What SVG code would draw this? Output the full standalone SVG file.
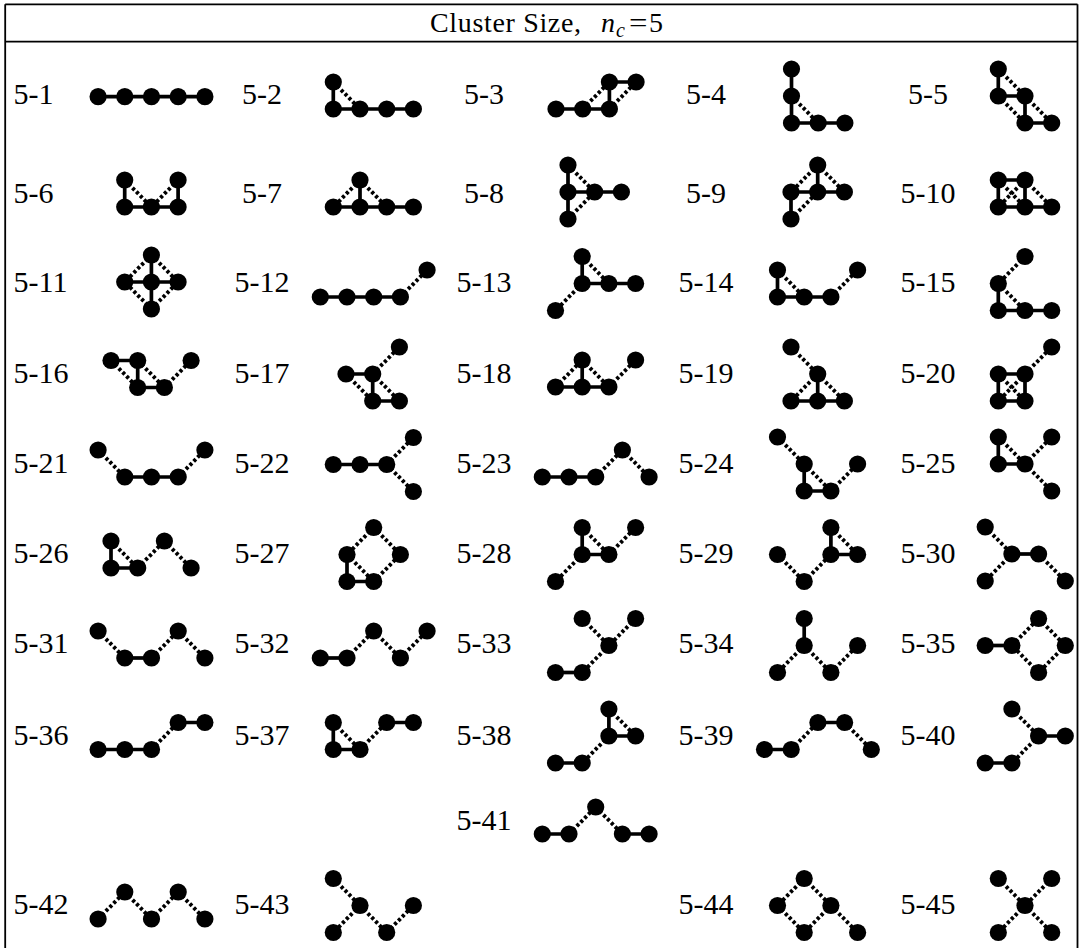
<svg xmlns="http://www.w3.org/2000/svg" width="1079" height="948" viewBox="0 0 1079 948">
<style>
text{font-family:"Liberation Serif","Times New Roman",serif;font-size:30px;fill:#000}
.lb1{text-anchor:start}
.lb{text-anchor:middle}
.hd{font-size:28px}
.s{stroke:#000;stroke-width:3.7;fill:none}
.d{stroke:#000;stroke-width:3.9;fill:none;stroke-dasharray:3.1 2.4}
.frame{stroke:#000;stroke-width:1.8;fill:none}
circle{fill:#000}
</style>
<rect width="1079" height="948" fill="#fff"/>
<g id="table">
<path class="frame" d="M5.2 4.3H1077.5M5.2 41.7H1077.5M5.2 4.3V948M1077.5 4.3V948"/>
<text class="hd" x="430" y="32.3" textLength="151" lengthAdjust="spacing">Cluster Size,</text>
<text class="hd" x="601" y="32.3" font-style="italic">n</text>
<text x="616" y="36.5" font-style="italic" style="font-size:20px">c</text>
<text class="hd" x="629" y="32.3" textLength="18.5" lengthAdjust="spacingAndGlyphs">=</text>
<text class="hd" x="649" y="32.3">5</text>
</g>
<g id="connectors">
<path class="s" transform="translate(98.1,96.7)" d="M0 0H106.8"/>
<path class="s" transform="translate(333.3,82)" d="M0 0V27H80.1"/>
<path class="d" transform="translate(333.3,82)" d="M0 0L26.7 27"/>
<path class="s" transform="translate(556,82)" d="M0 27H53.4V0H80.1"/>
<path class="d" transform="translate(556,82)" d="M26.7 27L53.4 0M53.4 27L80.1 0"/>
<path class="s" transform="translate(791.5,69)" d="M0 0V54H53.4"/>
<path class="d" transform="translate(791.5,69)" d="M0 27L26.7 54"/>
<path class="s" transform="translate(998.3,69)" d="M0 0V27H26.7V54H53.4"/>
<path class="d" transform="translate(998.3,69)" d="M0 0L26.7 27M0 27L26.7 54M26.7 27L53.4 54"/>

<path class="s" transform="translate(124.7,180)" d="M0 0V27H53.4V0"/>
<path class="d" transform="translate(124.7,180)" d="M0 0L26.7 27M53.4 0L26.7 27"/>
<path class="s" transform="translate(333.3,180)" d="M26.7 0V27M0 27H80.1"/>
<path class="d" transform="translate(333.3,180)" d="M26.7 0L0 27M26.7 0L53.4 27"/>
<path class="s" transform="translate(568,165)" d="M0 0V54M0 27H53.4"/>
<path class="d" transform="translate(568,165)" d="M0 0L26.7 27M0 54L26.7 27"/>
<path class="s" transform="translate(791,165)" d="M26.7 0V27M0 27H53.4M0 27V54"/>
<path class="d" transform="translate(791,165)" d="M26.7 0L0 27M26.7 0L53.4 27M0 54L26.7 27"/>
<path class="s" transform="translate(998.3,180)" d="M0 0H26.7V27H0ZM26.7 27H53.4"/>
<path class="d" transform="translate(998.3,180)" d="M0 0L26.7 27M26.7 0L0 27M26.7 0L53.4 27"/>

<path class="s" transform="translate(124.7,255)" d="M26.7 0V54M0 27H53.4"/>
<path class="d" transform="translate(124.7,255)" d="M26.7 0L0 27M26.7 0L53.4 27M26.7 54L0 27M26.7 54L53.4 27"/>
<path class="s" transform="translate(320.3,270)" d="M0 27H80.1"/>
<path class="d" transform="translate(320.3,270)" d="M80.1 27L106.8 0"/>
<path class="s" transform="translate(555.5,256.5)" d="M26.7 0V27H80.1"/>
<path class="d" transform="translate(555.5,256.5)" d="M26.7 0L53.4 27M26.7 27L0 54"/>
<path class="s" transform="translate(777.5,270)" d="M0 0V27H53.4"/>
<path class="d" transform="translate(777.5,270)" d="M0 0L26.7 27M53.4 27L80.1 0"/>
<path class="s" transform="translate(998.3,256.5)" d="M0 27V54H53.4"/>
<path class="d" transform="translate(998.3,256.5)" d="M26.7 0L0 27M0 27L26.7 54"/>

<path class="s" transform="translate(111,360.5)" d="M0 0H26.7V27H53.4"/>
<path class="d" transform="translate(111,360.5)" d="M0 0L26.7 27M26.7 0L53.4 27M53.4 27L80.1 0"/>
<path class="s" transform="translate(346,347)" d="M0 27H26.7V54H53.4"/>
<path class="d" transform="translate(346,347)" d="M26.7 27L53.4 0M0 27L26.7 54M26.7 27L53.4 54"/>
<path class="s" transform="translate(555.5,360)" d="M26.7 0V27M0 27H53.4"/>
<path class="d" transform="translate(555.5,360)" d="M0 27L26.7 0M26.7 0L53.4 27M53.4 27L80.1 0"/>
<path class="s" transform="translate(791,347)" d="M26.7 27V54M0 54H53.4"/>
<path class="d" transform="translate(791,347)" d="M0 0L26.7 27M26.7 27L0 54M26.7 27L53.4 54"/>
<path class="s" transform="translate(998.3,347)" d="M0 27H26.7V54H0Z"/>
<path class="d" transform="translate(998.3,347)" d="M0 27L26.7 54M26.7 27L0 54M26.7 27L53.4 0"/>

<path class="s" transform="translate(98.1,450)" d="M26.7 27H80.1"/>
<path class="d" transform="translate(98.1,450)" d="M0 0L26.7 27M80.1 27L106.8 0"/>
<path class="s" transform="translate(333.3,437.5)" d="M0 27H53.4"/>
<path class="d" transform="translate(333.3,437.5)" d="M53.4 27L80.1 0M53.4 27L80.1 54"/>
<path class="s" transform="translate(542.3,450)" d="M0 27H53.4"/>
<path class="d" transform="translate(542.3,450)" d="M53.4 27L80.1 0M80.1 0L106.8 27"/>
<path class="s" transform="translate(777.5,437)" d="M26.7 27V54H53.4"/>
<path class="d" transform="translate(777.5,437)" d="M0 0L26.7 27M26.7 27L53.4 54M53.4 54L80.1 27"/>
<path class="s" transform="translate(998.3,437)" d="M0 0V27H26.7"/>
<path class="d" transform="translate(998.3,437)" d="M0 0L26.7 27M26.7 27L53.4 0M26.7 27L53.4 54"/>

<path class="s" transform="translate(111,541)" d="M0 0V27H26.7"/>
<path class="d" transform="translate(111,541)" d="M0 0L26.7 27M26.7 27L53.4 0M53.4 0L80.1 27"/>
<path class="s" transform="translate(347,527.5)" d="M0 27V54H26.7"/>
<path class="d" transform="translate(347,527.5)" d="M26.7 0L0 27M26.7 0L53.4 27M0 27L26.7 54M26.7 54L53.4 27"/>
<path class="s" transform="translate(555.5,527.5)" d="M26.7 0V27H53.4"/>
<path class="d" transform="translate(555.5,527.5)" d="M26.7 0L53.4 27M53.4 27L80.1 0M26.7 27L0 54"/>
<path class="s" transform="translate(777.5,527.5)" d="M53.4 0V27H80.1"/>
<path class="d" transform="translate(777.5,527.5)" d="M53.4 0L80.1 27M0 27L26.7 54M26.7 54L53.4 27"/>
<path class="s" transform="translate(985.2,527)" d="M26.7 27H53.4"/>
<path class="d" transform="translate(985.2,527)" d="M0 0L26.7 27M26.7 27L0 54M53.4 27L80.1 54"/>

<path class="s" transform="translate(98.1,631)" d="M26.7 27H53.4"/>
<path class="d" transform="translate(98.1,631)" d="M0 0L26.7 27M53.4 27L80.1 0M80.1 0L106.8 27"/>
<path class="s" transform="translate(320.3,631)" d="M0 27H26.7"/>
<path class="d" transform="translate(320.3,631)" d="M26.7 27L53.4 0M53.4 0L80.1 27M80.1 27L106.8 0"/>
<path class="s" transform="translate(555.5,618.5)" d="M0 54H26.7"/>
<path class="d" transform="translate(555.5,618.5)" d="M26.7 0L53.4 27M80.1 0L53.4 27M53.4 27L26.7 54"/>
<path class="s" transform="translate(777.5,618.5)" d="M26.7 0V27"/>
<path class="d" transform="translate(777.5,618.5)" d="M26.7 27L0 54M26.7 27L53.4 54M53.4 54L80.1 27"/>
<path class="s" transform="translate(985.2,618.5)" d="M0 27H26.7"/>
<path class="d" transform="translate(985.2,618.5)" d="M26.7 27L53.4 0M53.4 0L80.1 27M80.1 27L53.4 54M53.4 54L26.7 27"/>

<path class="s" transform="translate(98.1,722.5)" d="M0 27H53.4M80.1 0H106.8"/>
<path class="d" transform="translate(98.1,722.5)" d="M53.4 27L80.1 0"/>
<path class="s" transform="translate(333.3,722.5)" d="M0 0V27H26.7M53.4 0H80.1"/>
<path class="d" transform="translate(333.3,722.5)" d="M0 0L26.7 27M26.7 27L53.4 0"/>
<path class="s" transform="translate(555.5,709)" d="M53.4 0V27H80.1M0 54H26.7"/>
<path class="d" transform="translate(555.5,709)" d="M53.4 0L80.1 27M53.4 27L26.7 54"/>
<path class="s" transform="translate(764.5,722.5)" d="M0 27H26.7M53.4 0H80.1"/>
<path class="d" transform="translate(764.5,722.5)" d="M26.7 27L53.4 0M80.1 0L106.8 27"/>
<path class="s" transform="translate(985.2,709)" d="M53.4 27H80.1M0 54H26.7"/>
<path class="d" transform="translate(985.2,709)" d="M26.7 0L53.4 27M53.4 27L26.7 54"/>

<path class="s" transform="translate(542.3,807)" d="M0 27H26.7M80.1 27H106.8"/>
<path class="d" transform="translate(542.3,807)" d="M26.7 27L53.4 0M53.4 0L80.1 27"/>

<path class="d" transform="translate(98.1,892)" d="M0 27L26.7 0M26.7 0L53.4 27M53.4 27L80.1 0M80.1 0L106.8 27"/>
<path class="d" transform="translate(333.3,878.5)" d="M0 0L26.7 27M26.7 27L0 54M26.7 27L53.4 54M53.4 54L80.1 27"/>
<path class="d" transform="translate(777.5,878.5)" d="M26.7 0L0 27M26.7 0L53.4 27M0 27L26.7 54M53.4 27L26.7 54M53.4 27L80.1 54"/>
<path class="d" transform="translate(998.3,878.5)" d="M0 0L26.7 27M53.4 0L26.7 27M26.7 27L0 54M26.7 27L53.4 54"/>
</g>

<g id="c5-1"><text class="lb1" x="13.5" y="104">5-1</text><g transform="translate(98.1,96.7)"><circle r="8.6" cx="0" cy="0"/><circle r="8.6" cx="26.7" cy="0"/><circle r="8.6" cx="53.4" cy="0"/><circle r="8.6" cx="80.1" cy="0"/><circle r="8.6" cx="106.8" cy="0"/></g></g>
<g id="c5-2"><text class="lb" x="262" y="104">5-2</text><g transform="translate(333.3,82)"><circle r="8.6" cx="0" cy="0"/><circle r="8.6" cx="0" cy="27"/><circle r="8.6" cx="26.7" cy="27"/><circle r="8.6" cx="53.4" cy="27"/><circle r="8.6" cx="80.1" cy="27"/></g></g>
<g id="c5-3"><text class="lb" x="484" y="104">5-3</text><g transform="translate(556,82)"><circle r="8.6" cx="0" cy="27"/><circle r="8.6" cx="26.7" cy="27"/><circle r="8.6" cx="53.4" cy="27"/><circle r="8.6" cx="53.4" cy="0"/><circle r="8.6" cx="80.1" cy="0"/></g></g>
<g id="c5-4"><text class="lb" x="706" y="104">5-4</text><g transform="translate(791.5,69)"><circle r="8.6" cx="0" cy="0"/><circle r="8.6" cx="0" cy="27"/><circle r="8.6" cx="0" cy="54"/><circle r="8.6" cx="26.7" cy="54"/><circle r="8.6" cx="53.4" cy="54"/></g></g>
<g id="c5-5"><text class="lb" x="928" y="104">5-5</text><g transform="translate(998.3,69)"><circle r="8.6" cx="0" cy="0"/><circle r="8.6" cx="0" cy="27"/><circle r="8.6" cx="26.7" cy="27"/><circle r="8.6" cx="26.7" cy="54"/><circle r="8.6" cx="53.4" cy="54"/></g></g>

<g id="c5-6"><text class="lb1" x="13.5" y="203">5-6</text><g transform="translate(124.7,180)"><circle r="8.6" cx="0" cy="0"/><circle r="8.6" cx="53.4" cy="0"/><circle r="8.6" cx="0" cy="27"/><circle r="8.6" cx="26.7" cy="27"/><circle r="8.6" cx="53.4" cy="27"/></g></g>
<g id="c5-7"><text class="lb" x="262" y="203">5-7</text><g transform="translate(333.3,180)"><circle r="8.6" cx="26.7" cy="0"/><circle r="8.6" cx="0" cy="27"/><circle r="8.6" cx="26.7" cy="27"/><circle r="8.6" cx="53.4" cy="27"/><circle r="8.6" cx="80.1" cy="27"/></g></g>
<g id="c5-8"><text class="lb" x="484" y="203">5-8</text><g transform="translate(568,165)"><circle r="8.6" cx="0" cy="0"/><circle r="8.6" cx="0" cy="27"/><circle r="8.6" cx="26.7" cy="27"/><circle r="8.6" cx="53.4" cy="27"/><circle r="8.6" cx="0" cy="54"/></g></g>
<g id="c5-9"><text class="lb" x="706" y="203">5-9</text><g transform="translate(791,165)"><circle r="8.6" cx="26.7" cy="0"/><circle r="8.6" cx="0" cy="27"/><circle r="8.6" cx="26.7" cy="27"/><circle r="8.6" cx="53.4" cy="27"/><circle r="8.6" cx="0" cy="54"/></g></g>
<g id="c5-10"><text class="lb" x="928" y="203">5-10</text><g transform="translate(998.3,180)"><circle r="8.6" cx="0" cy="0"/><circle r="8.6" cx="26.7" cy="0"/><circle r="8.6" cx="0" cy="27"/><circle r="8.6" cx="26.7" cy="27"/><circle r="8.6" cx="53.4" cy="27"/></g></g>

<g id="c5-11"><text class="lb1" x="13.5" y="292">5-11</text><g transform="translate(124.7,255)"><circle r="8.6" cx="26.7" cy="0"/><circle r="8.6" cx="0" cy="27"/><circle r="8.6" cx="26.7" cy="27"/><circle r="8.6" cx="53.4" cy="27"/><circle r="8.6" cx="26.7" cy="54"/></g></g>
<g id="c5-12"><text class="lb" x="262" y="292">5-12</text><g transform="translate(320.3,270)"><circle r="8.6" cx="0" cy="27"/><circle r="8.6" cx="26.7" cy="27"/><circle r="8.6" cx="53.4" cy="27"/><circle r="8.6" cx="80.1" cy="27"/><circle r="8.6" cx="106.8" cy="0"/></g></g>
<g id="c5-13"><text class="lb" x="484" y="292">5-13</text><g transform="translate(555.5,256.5)"><circle r="8.6" cx="26.7" cy="0"/><circle r="8.6" cx="26.7" cy="27"/><circle r="8.6" cx="53.4" cy="27"/><circle r="8.6" cx="80.1" cy="27"/><circle r="8.6" cx="0" cy="54"/></g></g>
<g id="c5-14"><text class="lb" x="706" y="292">5-14</text><g transform="translate(777.5,270)"><circle r="8.6" cx="0" cy="0"/><circle r="8.6" cx="0" cy="27"/><circle r="8.6" cx="26.7" cy="27"/><circle r="8.6" cx="53.4" cy="27"/><circle r="8.6" cx="80.1" cy="0"/></g></g>
<g id="c5-15"><text class="lb" x="928" y="292">5-15</text><g transform="translate(998.3,256.5)"><circle r="8.6" cx="26.7" cy="0"/><circle r="8.6" cx="0" cy="27"/><circle r="8.6" cx="0" cy="54"/><circle r="8.6" cx="26.7" cy="54"/><circle r="8.6" cx="53.4" cy="54"/></g></g>

<g id="c5-16"><text class="lb1" x="13.5" y="383">5-16</text><g transform="translate(111,360.5)"><circle r="8.6" cx="0" cy="0"/><circle r="8.6" cx="26.7" cy="0"/><circle r="8.6" cx="80.1" cy="0"/><circle r="8.6" cx="26.7" cy="27"/><circle r="8.6" cx="53.4" cy="27"/></g></g>
<g id="c5-17"><text class="lb" x="262" y="383">5-17</text><g transform="translate(346,347)"><circle r="8.6" cx="53.4" cy="0"/><circle r="8.6" cx="0" cy="27"/><circle r="8.6" cx="26.7" cy="27"/><circle r="8.6" cx="26.7" cy="54"/><circle r="8.6" cx="53.4" cy="54"/></g></g>
<g id="c5-18"><text class="lb" x="484" y="383">5-18</text><g transform="translate(555.5,360)"><circle r="8.6" cx="26.7" cy="0"/><circle r="8.6" cx="80.1" cy="0"/><circle r="8.6" cx="0" cy="27"/><circle r="8.6" cx="26.7" cy="27"/><circle r="8.6" cx="53.4" cy="27"/></g></g>
<g id="c5-19"><text class="lb" x="706" y="383">5-19</text><g transform="translate(791,347)"><circle r="8.6" cx="0" cy="0"/><circle r="8.6" cx="26.7" cy="27"/><circle r="8.6" cx="0" cy="54"/><circle r="8.6" cx="26.7" cy="54"/><circle r="8.6" cx="53.4" cy="54"/></g></g>
<g id="c5-20"><text class="lb" x="928" y="383">5-20</text><g transform="translate(998.3,347)"><circle r="8.6" cx="53.4" cy="0"/><circle r="8.6" cx="0" cy="27"/><circle r="8.6" cx="26.7" cy="27"/><circle r="8.6" cx="0" cy="54"/><circle r="8.6" cx="26.7" cy="54"/></g></g>

<g id="c5-21"><text class="lb1" x="13.5" y="473">5-21</text><g transform="translate(98.1,450)"><circle r="8.6" cx="0" cy="0"/><circle r="8.6" cx="26.7" cy="27"/><circle r="8.6" cx="53.4" cy="27"/><circle r="8.6" cx="80.1" cy="27"/><circle r="8.6" cx="106.8" cy="0"/></g></g>
<g id="c5-22"><text class="lb" x="262" y="473">5-22</text><g transform="translate(333.3,437.5)"><circle r="8.6" cx="0" cy="27"/><circle r="8.6" cx="26.7" cy="27"/><circle r="8.6" cx="53.4" cy="27"/><circle r="8.6" cx="80.1" cy="0"/><circle r="8.6" cx="80.1" cy="54"/></g></g>
<g id="c5-23"><text class="lb" x="484" y="473">5-23</text><g transform="translate(542.3,450)"><circle r="8.6" cx="0" cy="27"/><circle r="8.6" cx="26.7" cy="27"/><circle r="8.6" cx="53.4" cy="27"/><circle r="8.6" cx="80.1" cy="0"/><circle r="8.6" cx="106.8" cy="27"/></g></g>
<g id="c5-24"><text class="lb" x="706" y="473">5-24</text><g transform="translate(777.5,437)"><circle r="8.6" cx="0" cy="0"/><circle r="8.6" cx="26.7" cy="27"/><circle r="8.6" cx="26.7" cy="54"/><circle r="8.6" cx="53.4" cy="54"/><circle r="8.6" cx="80.1" cy="27"/></g></g>
<g id="c5-25"><text class="lb" x="928" y="473">5-25</text><g transform="translate(998.3,437)"><circle r="8.6" cx="0" cy="0"/><circle r="8.6" cx="0" cy="27"/><circle r="8.6" cx="26.7" cy="27"/><circle r="8.6" cx="53.4" cy="0"/><circle r="8.6" cx="53.4" cy="54"/></g></g>

<g id="c5-26"><text class="lb1" x="13.5" y="563">5-26</text><g transform="translate(111,541)"><circle r="8.6" cx="0" cy="0"/><circle r="8.6" cx="53.4" cy="0"/><circle r="8.6" cx="0" cy="27"/><circle r="8.6" cx="26.7" cy="27"/><circle r="8.6" cx="80.1" cy="27"/></g></g>
<g id="c5-27"><text class="lb" x="262" y="563">5-27</text><g transform="translate(347,527.5)"><circle r="8.6" cx="26.7" cy="0"/><circle r="8.6" cx="0" cy="27"/><circle r="8.6" cx="53.4" cy="27"/><circle r="8.6" cx="0" cy="54"/><circle r="8.6" cx="26.7" cy="54"/></g></g>
<g id="c5-28"><text class="lb" x="484" y="563">5-28</text><g transform="translate(555.5,527.5)"><circle r="8.6" cx="26.7" cy="0"/><circle r="8.6" cx="80.1" cy="0"/><circle r="8.6" cx="26.7" cy="27"/><circle r="8.6" cx="53.4" cy="27"/><circle r="8.6" cx="0" cy="54"/></g></g>
<g id="c5-29"><text class="lb" x="706" y="563">5-29</text><g transform="translate(777.5,527.5)"><circle r="8.6" cx="53.4" cy="0"/><circle r="8.6" cx="0" cy="27"/><circle r="8.6" cx="53.4" cy="27"/><circle r="8.6" cx="80.1" cy="27"/><circle r="8.6" cx="26.7" cy="54"/></g></g>
<g id="c5-30"><text class="lb" x="928" y="563">5-30</text><g transform="translate(985.2,527)"><circle r="8.6" cx="0" cy="0"/><circle r="8.6" cx="26.7" cy="27"/><circle r="8.6" cx="53.4" cy="27"/><circle r="8.6" cx="0" cy="54"/><circle r="8.6" cx="80.1" cy="54"/></g></g>

<g id="c5-31"><text class="lb1" x="13.5" y="653">5-31</text><g transform="translate(98.1,631)"><circle r="8.6" cx="0" cy="0"/><circle r="8.6" cx="26.7" cy="27"/><circle r="8.6" cx="53.4" cy="27"/><circle r="8.6" cx="80.1" cy="0"/><circle r="8.6" cx="106.8" cy="27"/></g></g>
<g id="c5-32"><text class="lb" x="262" y="653">5-32</text><g transform="translate(320.3,631)"><circle r="8.6" cx="0" cy="27"/><circle r="8.6" cx="26.7" cy="27"/><circle r="8.6" cx="53.4" cy="0"/><circle r="8.6" cx="80.1" cy="27"/><circle r="8.6" cx="106.8" cy="0"/></g></g>
<g id="c5-33"><text class="lb" x="484" y="653">5-33</text><g transform="translate(555.5,618.5)"><circle r="8.6" cx="26.7" cy="0"/><circle r="8.6" cx="80.1" cy="0"/><circle r="8.6" cx="53.4" cy="27"/><circle r="8.6" cx="26.7" cy="54"/><circle r="8.6" cx="0" cy="54"/></g></g>
<g id="c5-34"><text class="lb" x="706" y="653">5-34</text><g transform="translate(777.5,618.5)"><circle r="8.6" cx="26.7" cy="0"/><circle r="8.6" cx="26.7" cy="27"/><circle r="8.6" cx="0" cy="54"/><circle r="8.6" cx="53.4" cy="54"/><circle r="8.6" cx="80.1" cy="27"/></g></g>
<g id="c5-35"><text class="lb" x="928" y="653">5-35</text><g transform="translate(985.2,618.5)"><circle r="8.6" cx="0" cy="27"/><circle r="8.6" cx="26.7" cy="27"/><circle r="8.6" cx="53.4" cy="0"/><circle r="8.6" cx="80.1" cy="27"/><circle r="8.6" cx="53.4" cy="54"/></g></g>

<g id="c5-36"><text class="lb1" x="13.5" y="745">5-36</text><g transform="translate(98.1,722.5)"><circle r="8.6" cx="0" cy="27"/><circle r="8.6" cx="26.7" cy="27"/><circle r="8.6" cx="53.4" cy="27"/><circle r="8.6" cx="80.1" cy="0"/><circle r="8.6" cx="106.8" cy="0"/></g></g>
<g id="c5-37"><text class="lb" x="262" y="745">5-37</text><g transform="translate(333.3,722.5)"><circle r="8.6" cx="0" cy="0"/><circle r="8.6" cx="0" cy="27"/><circle r="8.6" cx="26.7" cy="27"/><circle r="8.6" cx="53.4" cy="0"/><circle r="8.6" cx="80.1" cy="0"/></g></g>
<g id="c5-38"><text class="lb" x="484" y="745">5-38</text><g transform="translate(555.5,709)"><circle r="8.6" cx="53.4" cy="0"/><circle r="8.6" cx="53.4" cy="27"/><circle r="8.6" cx="80.1" cy="27"/><circle r="8.6" cx="26.7" cy="54"/><circle r="8.6" cx="0" cy="54"/></g></g>
<g id="c5-39"><text class="lb" x="706" y="745">5-39</text><g transform="translate(764.5,722.5)"><circle r="8.6" cx="0" cy="27"/><circle r="8.6" cx="26.7" cy="27"/><circle r="8.6" cx="53.4" cy="0"/><circle r="8.6" cx="80.1" cy="0"/><circle r="8.6" cx="106.8" cy="27"/></g></g>
<g id="c5-40"><text class="lb" x="928" y="745">5-40</text><g transform="translate(985.2,709)"><circle r="8.6" cx="26.7" cy="0"/><circle r="8.6" cx="53.4" cy="27"/><circle r="8.6" cx="80.1" cy="27"/><circle r="8.6" cx="26.7" cy="54"/><circle r="8.6" cx="0" cy="54"/></g></g>

<g id="c5-41"><text class="lb" x="484" y="830">5-41</text><g transform="translate(542.3,807)"><circle r="8.6" cx="0" cy="27"/><circle r="8.6" cx="26.7" cy="27"/><circle r="8.6" cx="53.4" cy="0"/><circle r="8.6" cx="80.1" cy="27"/><circle r="8.6" cx="106.8" cy="27"/></g></g>

<g id="c5-42"><text class="lb1" x="13.5" y="914">5-42</text><g transform="translate(98.1,892)"><circle r="8.6" cx="0" cy="27"/><circle r="8.6" cx="26.7" cy="0"/><circle r="8.6" cx="53.4" cy="27"/><circle r="8.6" cx="80.1" cy="0"/><circle r="8.6" cx="106.8" cy="27"/></g></g>
<g id="c5-43"><text class="lb" x="262" y="914">5-43</text><g transform="translate(333.3,878.5)"><circle r="8.6" cx="0" cy="0"/><circle r="8.6" cx="26.7" cy="27"/><circle r="8.6" cx="0" cy="54"/><circle r="8.6" cx="53.4" cy="54"/><circle r="8.6" cx="80.1" cy="27"/></g></g>
<g id="c5-44"><text class="lb" x="706" y="914">5-44</text><g transform="translate(777.5,878.5)"><circle r="8.6" cx="26.7" cy="0"/><circle r="8.6" cx="0" cy="27"/><circle r="8.6" cx="53.4" cy="27"/><circle r="8.6" cx="26.7" cy="54"/><circle r="8.6" cx="80.1" cy="54"/></g></g>
<g id="c5-45"><text class="lb" x="928" y="914">5-45</text><g transform="translate(998.3,878.5)"><circle r="8.6" cx="0" cy="0"/><circle r="8.6" cx="53.4" cy="0"/><circle r="8.6" cx="26.7" cy="27"/><circle r="8.6" cx="0" cy="54"/><circle r="8.6" cx="53.4" cy="54"/></g></g>
</svg>
